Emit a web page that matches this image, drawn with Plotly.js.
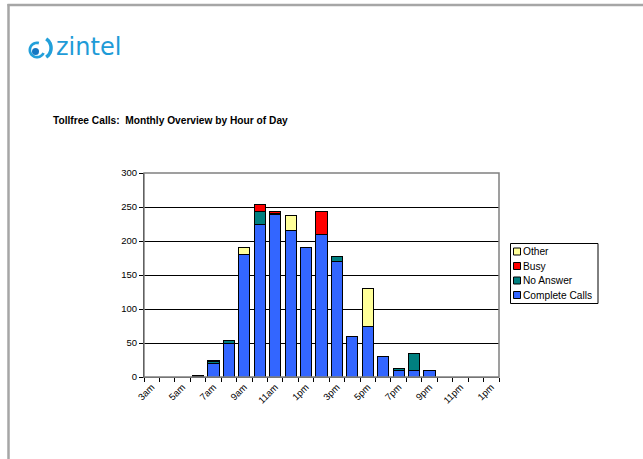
<!DOCTYPE html>
<html>
<head>
<meta charset="utf-8">
<script src="https://cdn.plot.ly/plotly-3.0.1.min.js"></script>
<style>html,body{margin:0;padding:0;background:#fff;}#chart{width:643px;height:459px;}</style>
</head>
<body>
<div id="chart"></div>
<script>
// ---- data ----
const hours = ['3am','4am','5am','6am','7am','8am','9am','10am','11am','12pm','1pm','2pm','3pm','4pm','5pm','6pm','7pm','8pm','9pm','10pm','11pm','12am','1pm'];
const completeCalls = [0,0,0,1,20,50,180,225,239,215,190,210,170,60,75,30,10,10,9,0,0,0,0];
const noAnswer      = [0,0,0,1,3,4,0,18,1,0,0,0,7,0,0,0,2,25,0,0,0,0,0];
const busy          = [0,0,0,0,2,0,0,11,3,0,0,34,0,0,0,0,1,0,0,0,0,0,0];
const other         = [0,0,0,0,0,0,10,0,0,22,0,0,0,0,55,0,0,0,0,0,0,0,0];
const seriesNames = ['Complete Calls','No Answer','Busy','Other'];
const seriesColors = ['#3366FF','#008080','#FF0000','#FFFF99'];
const yTicks = [0,50,100,150,200,250,300];

// ---- geometry helpers ----
const L = 144, R = 499, T = 173, B = 377;
const W = R - L, H = B - T;
const px = x => (x - L) / W;
const py = y => (B - y) / H;
const P = (x, y) => px(x).toFixed(5) + ',' + py(y).toFixed(5);

function ringPath(cx, cy, ro, ri, a0, a1) {
  const n = 30; let s = '';
  for (let i = 0; i <= n; i++) {
    const a = (a0 + (a1 - a0) * i / n) * Math.PI / 180;
    s += (i ? 'L' : 'M') + P(cx + ro * Math.cos(a), cy - ro * Math.sin(a));
  }
  for (let i = n; i >= 0; i--) {
    const a = (a0 + (a1 - a0) * i / n) * Math.PI / 180;
    s += 'L' + P(cx + ri * Math.cos(a), cy - ri * Math.sin(a));
  }
  return s + 'Z';
}

const idx = hours.map((h, i) => i);
const seriesVals = [completeCalls, noAnswer, busy, other];
const traces = seriesVals.map((vals, k) => ({
  type: 'bar',
  x: idx,
  y: vals,
  name: seriesNames[k],
  width: 0.72,
  marker: {color: seriesColors[k], line: {color: '#000', width: 1}},
  hoverinfo: 'x+y+name'
}));

const font = 'Liberation Sans, Arial, sans-serif';
const shapes = [];
const annotations = [];

// page borders
shapes.push({type: 'line', xref: 'paper', yref: 'paper', x0: px(7.5), x1: px(643), y0: py(5), y1: py(5), line: {color: '#a6a6a6', width: 2.5}});
shapes.push({type: 'line', xref: 'paper', yref: 'paper', x0: px(8.5), x1: px(8.5), y0: py(4), y1: py(459), line: {color: '#a6a6a6', width: 2.5}});

// plot area border (grey)
shapes.push({type: 'rect', xref: 'paper', yref: 'paper', x0: 0, x1: 1, y0: 0, y1: 1, line: {color: '#808080', width: 1.5}, layer: 'above'});

// logo icon
shapes.push({type: 'path', xref: 'paper', yref: 'paper', path: ringPath(37, 50, 8.5, 5.8, 75, 335), fillcolor: '#23a0da', line: {width: 0}});
shapes.push({type: 'path', xref: 'paper', yref: 'paper', path: ringPath(40, 48, 12.8, 9.3, -56, 56), fillcolor: '#23a0da', line: {width: 0}});
shapes.push({type: 'circle', xref: 'paper', yref: 'paper', x0: px(32), x1: px(39), y0: py(48), y1: py(55), fillcolor: '#1677c2', line: {width: 0}});
annotations.push({xref: 'paper', yref: 'paper', x: px(54), y: py(46.5), xanchor: 'left', yanchor: 'middle', showarrow: false,
  text: 'zintel', font: {family: 'DejaVu Sans, sans-serif', size: 24, color: '#1e9bd7'}});

// custom legend
const lgX0 = 510.5, lgX1 = 598, lgY0 = 243.5, lgY1 = 303.5;
shapes.push({type: 'rect', xref: 'paper', yref: 'paper', x0: px(lgX0), x1: px(lgX1), y0: py(lgY0), y1: py(lgY1), line: {color: '#000', width: 1}, fillcolor: '#fff', layer: 'above'});
const lgOrder = [3, 2, 1, 0];
const lgY = [251.5, 266, 280.5, 295];
lgOrder.forEach((k, j) => {
  const yc = lgY[j];
  shapes.push({type: 'rect', xref: 'paper', yref: 'paper', x0: px(513.5), x1: px(520.5), y0: py(yc - 3.5), y1: py(yc + 3.5), fillcolor: seriesColors[k], line: {color: '#000', width: 1}, layer: 'above'});
  annotations.push({xref: 'paper', yref: 'paper', x: px(521), y: py(yc), xanchor: 'left', yanchor: 'middle', showarrow: false,
    text: seriesNames[k], font: {family: font, size: 10.2, color: '#000'}});
});

const tickIdx = idx.filter(i => i % 2 === 0);

const layout = {
  width: 643, height: 459,
  margin: {l: L, r: 643 - R, t: T, b: 459 - B, pad: 0},
  paper_bgcolor: '#fff', plot_bgcolor: '#fff',
  barmode: 'stack',
  bargap: 0.28,
  showlegend: false,
  title: {text: '<b>Tollfree Calls:\u00a0 Monthly Overview by Hour of Day</b>', xref: 'container', yref: 'container',
    x: 53 / 643, xanchor: 'left', y: 1 - 120 / 459, yanchor: 'middle',
    font: {family: font, size: 10.2, color: '#000'}},
  xaxis: {
    range: [-0.5, hours.length - 0.5], fixedrange: true,
    tickmode: 'array', tickvals: tickIdx, ticktext: tickIdx.map(i => hours[i]),
    tickangle: -45, ticks: '', showgrid: false, zeroline: false,
    showline: true, linecolor: '#555', linewidth: 1,
    tickfont: {family: font, size: 9.5, color: '#000'},
    minor: {tick0: -0.5, dtick: 1, ticks: 'outside', ticklen: 4, tickcolor: '#000', tickwidth: 1, showgrid: false}
  },
  yaxis: {
    range: [0, 300], fixedrange: true,
    tickmode: 'array', tickvals: yTicks,
    ticks: 'outside', ticklen: 4, tickcolor: '#000', tickwidth: 1,
    showgrid: true, gridcolor: '#000', gridwidth: 1, zeroline: false,
    showline: true, linecolor: '#000', linewidth: 1,
    tickfont: {family: font, size: 9.5, color: '#000'}
  },
  shapes: shapes,
  annotations: annotations
};

Plotly.newPlot('chart', traces, layout, {displayModeBar: false, staticPlot: true});
</script>
</body>
</html>
